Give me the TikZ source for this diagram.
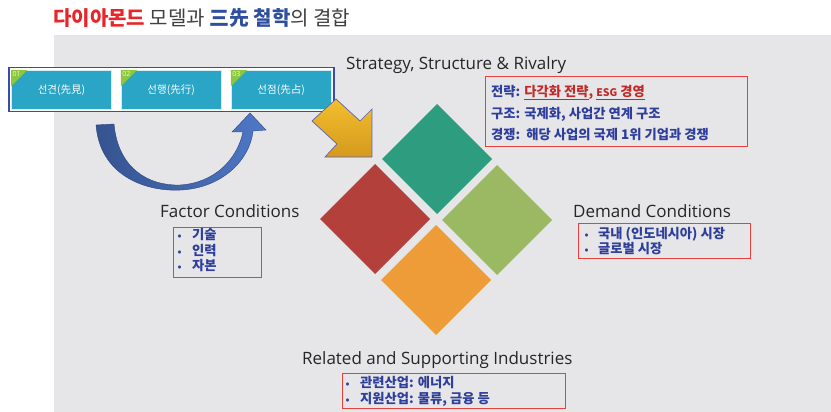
\documentclass[tikz,border=0pt]{standalone}
\usepackage{fontspec}
\setmainfont{Open Sans}
\newfontfamily\kr{Noto Sans CJK KR}
\definecolor{bg}{HTML}{E6E6E8}
\definecolor{titlered}{HTML}{E8262A}
\definecolor{titleblue}{HTML}{2E4FA0}
\definecolor{titlegray}{HTML}{404040}
\definecolor{labelgray}{HTML}{262626}
\definecolor{teal}{HTML}{2AA5C5}
\definecolor{tgreen}{HTML}{8DC63F}
\definecolor{frameblue}{HTML}{3A4CA5}
\definecolor{arrowL}{HTML}{35538F}
\definecolor{arrowR}{HTML}{4F78C8}
\definecolor{arrowedge}{HTML}{2C4680}
\definecolor{yelTop}{HTML}{F3BE2E}
\definecolor{yelBot}{HTML}{D49A1E}
\definecolor{yeledge}{HTML}{5B62B5}
\definecolor{dgreen}{HTML}{2E9C7F}
\definecolor{dred}{HTML}{B3403A}
\definecolor{dlgreen}{HTML}{9BB963}
\definecolor{dorange}{HTML}{EE9C37}
\definecolor{redbox}{HTML}{E8403C}
\definecolor{tblue}{HTML}{2E3E9C}
\definecolor{tred}{HTML}{C22A2A}
\tikzset{
  tealbox/.style={fill=teal, draw=white!80!teal, line width=0.6pt, minimum width=100pt, minimum height=39pt, inner sep=0pt, text=white, font=\kr\fontsize{10.5}{12}\selectfont},
  numlabel/.style={anchor=north west, inner sep=1.2pt, text=white!85!tgreen, font=\fontsize{7}{8}\selectfont},
  redframe/.style={draw=redbox, line width=1.3pt, anchor=north west, inner sep=0pt},
  heading/.style={anchor=base west, inner sep=0pt, text=labelgray, font=\fontsize{17}{20}\selectfont},
  krtext/.style={anchor=base west, inner sep=0pt, text=tblue, font=\kr\bfseries\fontsize{13.3}{15}\selectfont},
  bullet/.style={anchor=base west, inner sep=0pt, text=tblue, font=\kr\bfseries\fontsize{10}{12}\selectfont}
}
\begin{document}
\begin{tikzpicture}[x=1pt,y=-1pt]
\useasboundingbox (0,0) rectangle (831,412);
\fill[white] (0,0) rectangle (831,412);
\fill[bg] (54,35) rectangle (831,412);

% title
\node[anchor=base west, inner sep=0pt, text=titlegray, font=\kr\fontsize{20}{22}\selectfont] (title) at (53,25.5)
  {{\bfseries\color{titlered}다이아몬드} 모델과 {\bfseries\color{titleblue}三先 철학}의 결합};

% three-step frame
\node[draw=frameblue, line width=1.8pt, fill=white, minimum width=325pt, minimum height=44pt, inner sep=0pt] (frame) at (171.5,89.5) {};
\node[tealbox] (b1) at (61.5,90) {선견(先見)};
\node[tealbox] (b2) at (171.2,90) {선행(先行)};
\node[tealbox] (b3) at (281.2,90) {선점(先占)};
\foreach \b/\n in {b1/01,b2/02,b3/03}{
  \fill[tgreen] (\b.north west) -- ++(16,0) -- ++(-16,16) -- cycle;
  \node[numlabel] at (\b.north west) {\n};
}

% curved blue arrow
\path[draw=arrowedge, line width=0.4pt, left color=arrowL, right color=arrowR]
  (96,125) .. controls (100,176) and (146,192) .. (181,190)
  .. controls (222,188) and (250,160) .. (253,131)
  -- (266,130) -- (250,113) -- (232,132) -- (243,132)
  .. controls (237,160) and (214,183) .. (180,185)
  .. controls (148,186) and (118,168) .. (114,124) -- cycle;

% yellow block arrow
\path[draw=yeledge, line width=0.7pt, top color=yelTop, bottom color=yelBot]
  (336,99) -- (360,121) -- (372,109) -- (372,157) -- (325,157) -- (337,144) -- (312,121) -- cycle;

% diamonds
\fill[dgreen]  (437,104) -- (492,159) -- (437,214) -- (382,159) -- cycle;
\fill[dred]    (375,164) -- (430,219) -- (375,274) -- (320,219) -- cycle;
\fill[dlgreen] (497,165) -- (552,220) -- (497,275) -- (442,220) -- cycle;
\fill[dorange] (436,225) -- (491,280) -- (436,335) -- (381,280) -- cycle;

% Strategy
\node[heading] (ssr) at (346,69.5) {Strategy, Structure \& Rivalry};
\node[redframe, minimum width=262pt, minimum height=70pt] (sbox) at (485,76) {};
\node[krtext] (s1) at (491,96.5) {전략: {\color{tred}\underline{다각화 전략}, \underline{{\fontsize{10.5}{12}\selectfont ESG} 경영}}};
\node[krtext] (s2) at (491,118) {구조: 국제화, 사업간 연계 구조};
\node[krtext] (s3) at (491,139.5) {경쟁:\ \ 해당 사업의 국제 1위 기업과 경쟁};

% Factor
\node[heading] (fc) at (160,217.5) {Factor Conditions};
\node[redframe, minimum width=88pt, minimum height=50pt] (fbox) at (172.5,227) {};
\foreach \y/\t in {239.5/기술, 255/인력, 270/자본}{
  \node[bullet] at (177.5,\y) {•};
  \node[krtext] at (192,\y) {\t};
}

% Demand
\node[heading] (dc) at (573,217.5) {Demand Conditions};
\node[redframe, minimum width=172pt, minimum height=35pt] (dbox) at (578,223) {};
\node[bullet] at (584.5,238) {•};
\node[krtext] at (598,238) {국내 (인도네시아) 시장};
\node[bullet] at (584.5,253.5) {•};
\node[krtext] at (598,253.5) {글로벌 시장};

% Related
\node[heading] (rs) at (302,364) {Related and Supporting Industries};
\node[redframe, minimum width=223pt, minimum height=35pt] (rbox) at (342,373) {};
\node[bullet] at (345.5,387) {•};
\node[krtext] at (360,387) {관련산업: 에너지};
\node[bullet] at (345.5,403) {•};
\node[krtext] at (360,403) {지원산업: 물류, 금융 등};
\end{tikzpicture}
\end{document}
